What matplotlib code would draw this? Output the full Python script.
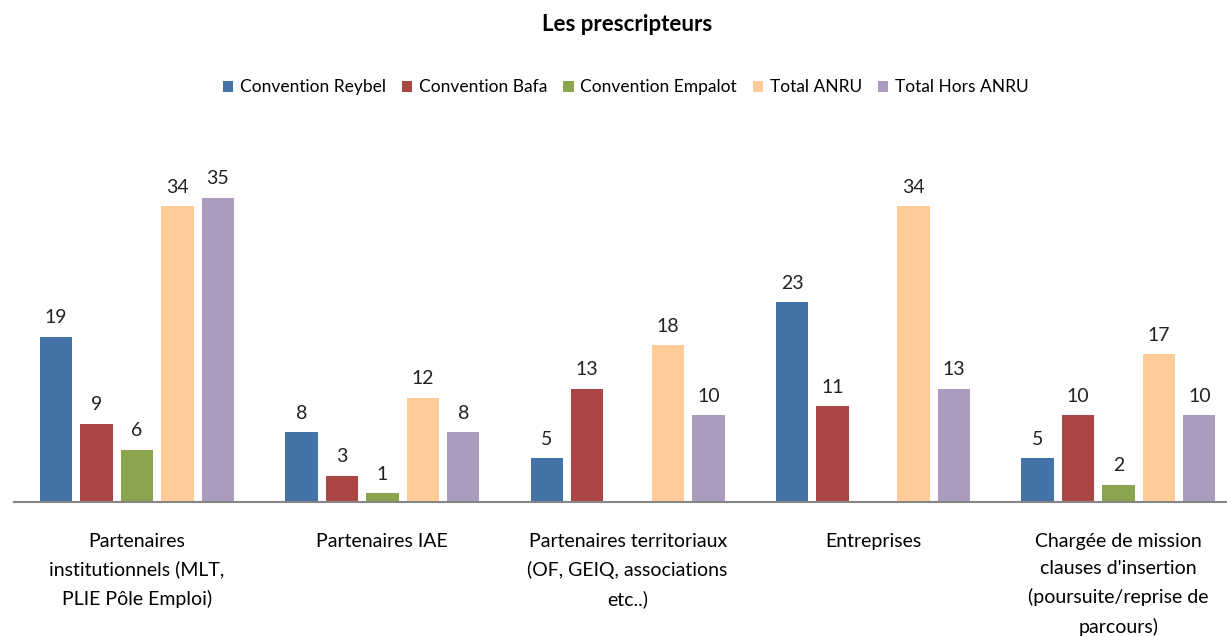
import matplotlib.pyplot as plt
import numpy as np

plt.rcParams['font.family'] = ['Lato', 'DejaVu Sans']

# categories and series
categories = ["Partenaires\ninstitutionnels (MLT,\nPLIE Pôle Emploi)",
              "Partenaires IAE",
              "Partenaires territoriaux\n(OF, GEIQ, associations\netc..)",
              "Entreprises",
              "Chargée de mission\nclauses d'insertion\n(poursuite/reprise de\nparcours)"]
series_names = ["Convention Reybel", "Convention Bafa", "Convention Empalot",
                "Total ANRU", "Total Hors ANRU"]
reybel = [19, 8, 5, 23, 5]
bafa = [9, 3, 13, 11, 10]
empalot = [6, 1, 0, 0, 2]
total_anru = [34, 12, 18, 34, 17]
hors_anru = [35, 8, 10, 13, 10]
colors = ["#4572A7", "#AA4643", "#89A54E", "#FFCC99", "#AA9BBF"]

data = [reybel, bafa, empalot, total_anru, hors_anru]

fig = plt.figure(figsize=(12.27, 6.37), dpi=100)
ax = fig.add_axes([0.0117, 0.212, 0.9997, 0.546])

x = np.arange(len(categories))
w = 0.165
for i, (vals, name, c) in enumerate(zip(data, series_names, colors)):
    pos = x + (i - 2) * w
    bars = ax.bar(pos, vals, width=w * 0.8, color=c, label=name)
    for b, v in zip(bars, vals):
        if v > 0:
            ax.text(b.get_x() + b.get_width() / 2, v + 1.2, str(v),
                    ha='center', va='bottom', fontsize=14, color='#222222')

ax.set_xlim(-0.5, len(categories) - 0.5)
ax.set_ylim(0, 40)
ax.set_xticks(x)
ax.set_xticklabels(categories, fontsize=14, linespacing=1.75)
ax.tick_params(axis='x', length=0, pad=22)
ax.set_yticks([])
for s in ['top', 'right', 'left']:
    ax.spines[s].set_visible(False)
ax.spines['bottom'].set_color('#868686')
ax.spines['bottom'].set_linewidth(1.5)

fig.text(0.511, 0.962, "Les prescripteurs", ha='center', va='center',
         fontsize=16, fontweight='bold')
fig.legend(loc='center', bbox_to_anchor=(0.51, 0.863), ncol=5, frameon=False,
           fontsize=12.5, handlelength=0.6, handleheight=0.6, handletextpad=0.4,
           columnspacing=0.9)

fig.savefig("out.png", dpi=100)
